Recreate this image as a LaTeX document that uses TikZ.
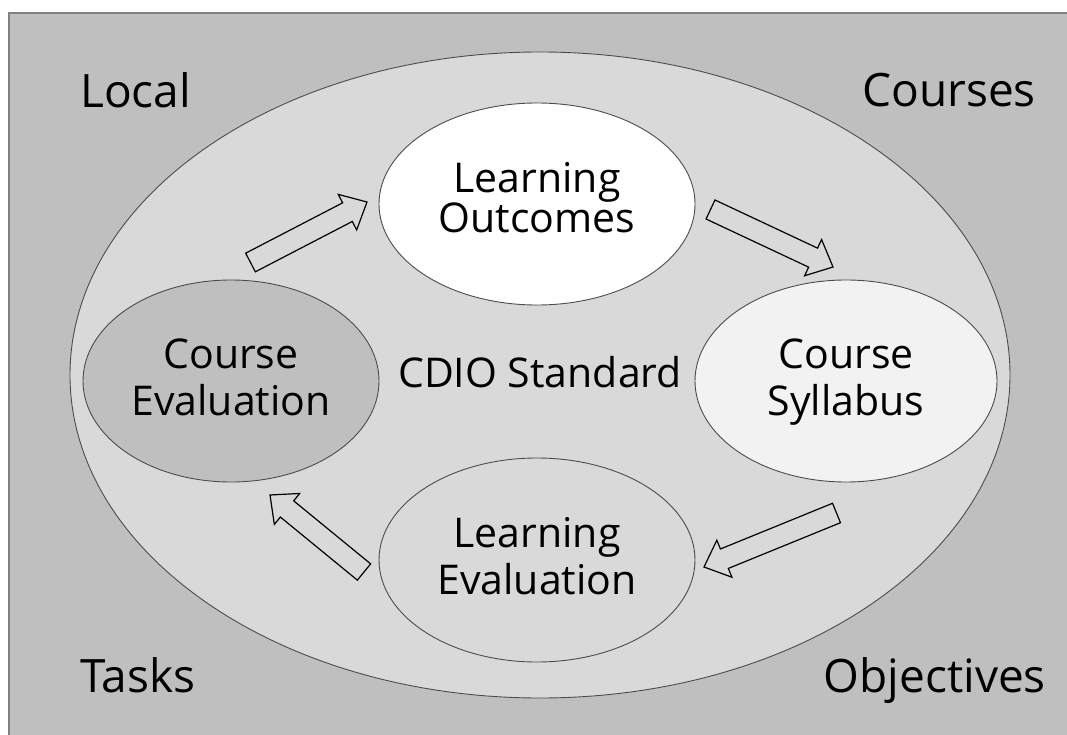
\documentclass[tikz,border=0pt]{standalone}
\usepackage{fontspec}
\setmainfont{Open Sans}
\usetikzlibrary{shapes.geometric,calc,positioning}

\definecolor{bggray}{RGB}{191,191,191}
\definecolor{ringgray}{RGB}{217,217,217}
\definecolor{sylgray}{RGB}{242,242,242}

\tikzset{
  oval/.style={ellipse, draw=black!70, line width=0.9pt, inner sep=0pt, align=center,
    text depth=7pt, font=\fontsize{41}{47}\selectfont},
  cornerlabel/.style={font=\fontsize{46}{46}\selectfont, inner sep=0pt},
  flowarrow/.style={draw=black, fill=ringgray, line width=1.2pt, line join=miter},
}

% hollow block arrow from tail #1 to tip #2
\newcommand{\blockarrow}[2]{%
  \coordinate (hb) at ($(#2)!22pt!(#1)$);
  \draw[flowarrow] ($(#1)!10.5pt!90:(#2)$) -- ($(hb)!10.5pt!90:(#2)$)
    -- ($(hb)!20pt!90:(#2)$) -- (#2) -- ($(hb)!20pt!-90:(#2)$)
    -- ($(hb)!10.5pt!-90:(#2)$) -- ($(#1)!10.5pt!-90:(#2)$) -- cycle;}

\begin{document}
\begin{tikzpicture}[x=1pt,y=-1pt]
    \useasboundingbox (0,0) rectangle (1067,735);
    % Background
    \draw[fill=bggray, draw=black!50, line width=1.2pt] (9,13) rectangle (1080,750);

    \node[cornerlabel, anchor=base west] (local) at (80,108) {Local};
    \node[cornerlabel, anchor=base east] (courses) at (1036,107) {Courses};
    \node[cornerlabel, anchor=base west] (tasks) at (80,692) {Tasks};
    \node[cornerlabel, anchor=base east] (objectives) at (1046,692) {Objectives};

    % Outer ellipse
    \node[oval, fill=ringgray, minimum width=940, minimum height=646] (cdio) at (540,375) {CDIO Standard};

    % Cycle
    \node[oval, fill=white, minimum width=316, minimum height=202, text depth=14pt,
      font=\fontsize{41}{40}\selectfont] (lo) at (537,204) {Learning\\Outcomes};
    \node[oval, fill=sylgray, minimum width=302, minimum height=202] (cs) at (846,381) {Course\\Syllabus};
    \node[oval, fill=ringgray, minimum width=316, minimum height=204, text depth=8pt] (le) at (537,560) {Learning\\Evaluation};
    \node[oval, fill=bggray, minimum width=296, minimum height=202] (ce) at (231,381) {Course\\Evaluation};

    % Arrows
    \coordinate (t1) at (250.5,262.5); \coordinate (h1) at (367,202);
    \coordinate (t2) at (710.5,209.5); \coordinate (h2) at (833,267);
    \coordinate (t3) at (836.5,513);   \coordinate (h3) at (704,567);
    \coordinate (t4) at (364,572);     \coordinate (h4) at (270,495);
    \blockarrow{t1}{h1}
    \blockarrow{t2}{h2}
    \blockarrow{t3}{h3}
    \blockarrow{t4}{h4}
\end{tikzpicture}
\end{document}
